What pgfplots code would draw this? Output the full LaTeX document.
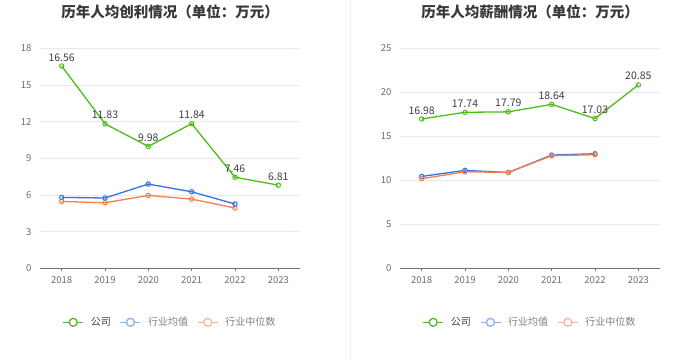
\documentclass[border=0pt]{standalone}
\usepackage{fontspec}
\setmainfont{Noto Sans CJK SC}
\usepackage{pgfplots}
\pgfplotsset{compat=1.18}
\definecolor{cgreen}{HTML}{4DBD1B}
\definecolor{cblue}{HTML}{3571E8}
\definecolor{corange}{HTML}{F5804F}
\definecolor{lblue}{HTML}{8EB0F4}
\definecolor{lorange}{HTML}{F9B59A}
\definecolor{gridc}{HTML}{E6E9EF}
\definecolor{tickc}{HTML}{6E6E6E}
\pgfplotsset{
  mystyle/.style={
    anchor=south west, width=260pt, height=220pt, scale only axis,
    xmin=-0.5, xmax=5.5, ymin=0,
    xtick={0,...,5}, xticklabels={2018,2019,2020,2021,2022,2023},
    axis x line*=bottom, axis y line*=left,
    y axis line style={draw=none},
    x axis line style={draw=black!55, line width=0.8pt},
    ytick style={draw=none},
    xtick style={draw=black!55, line width=0.8pt},
    tick align=outside, major tick length=3pt,
    ymajorgrids, grid style={gridc, line width=0.8pt},
    tick label style={font=\fontsize{9.5}{11}\selectfont, text=tickc},
    /pgf/number format/assume math mode=true,
    xticklabel style={yshift=-2pt},
    yticklabel style={xshift=-2pt},
    clip=false,
    legend style={at={(0.5,-0.245)}, anchor=center, draw=none, fill=none,
      legend columns=3, font=\fontsize{10}{12}\selectfont,
      /tikz/every odd column/.append style={column sep=5pt},
      /tikz/every even column/.append style={column sep=7pt}},
    legend image code/.code={
      \draw[#1, line width=1.3pt] (0pt,0pt) -- (20pt,0pt);
      \draw[#1, line width=1.3pt, fill=white] (10pt,0pt) circle (4pt);},
    every axis plot/.append style={line width=1.3pt, mark=o, mark size=2.2pt,
      mark options={fill=white, line width=1pt}},
  }
}
\begin{document}
\begin{tikzpicture}
\fill[white] (0pt,0pt) rectangle (700pt,360pt);
\draw[black!6, line width=0.8pt] (350pt,0pt) -- (350pt,360pt);
\node[font=\bfseries\fontsize{14.5}{16}\selectfont, text=black!78] at (170pt,348pt) {历年人均创利情况（单位：万元）};
\node[font=\bfseries\fontsize{14.5}{16}\selectfont, text=black!78] at (530pt,348pt) {历年人均薪酬情况（单位：万元）};

\begin{axis}[mystyle, at={(40pt,92pt)}, ymax=18, ytick={0,3,...,18}]
\addlegendimage{cgreen}
\addlegendentry{\textcolor{black!75}{公司}}
\addlegendimage{lblue}
\addlegendentry{\textcolor{black!50}{行业均值}}
\addlegendimage{lorange}
\addlegendentry{\textcolor{black!50}{行业中位数}}
\addplot[corange, forget plot] coordinates {(0,5.48) (1,5.37) (2,5.97) (3,5.67) (4,4.94)};
\addplot[cblue, forget plot] coordinates {(0,5.81) (1,5.76) (2,6.90) (3,6.27) (4,5.27)};
\addplot[cgreen, forget plot, nodes near coords, point meta=explicit symbolic,
  every node near coord/.append style={font=\fontsize{10.5}{12}\selectfont, text=black!75, yshift=1pt}]
  coordinates {(0,16.56)[16.56] (1,11.83)[11.83] (2,9.98)[9.98] (3,11.84)[11.84] (4,7.46)[7.46] (5,6.81)[6.81]};
\end{axis}

\begin{axis}[mystyle, at={(400pt,92pt)}, ymax=25, ytick={0,5,...,25}]
\addlegendimage{cgreen}
\addlegendentry{\textcolor{black!75}{公司}}
\addlegendimage{lblue}
\addlegendentry{\textcolor{black!50}{行业均值}}
\addlegendimage{lorange}
\addlegendentry{\textcolor{black!50}{行业中位数}}
\addplot[cblue, forget plot] coordinates {(0,10.45) (1,11.14) (2,10.90) (3,12.88) (4,13.03)};
\addplot[corange, forget plot] coordinates {(0,10.19) (1,10.98) (2,10.90) (3,12.80) (4,12.92)};
\addplot[cgreen, forget plot, nodes near coords, point meta=explicit symbolic,
  every node near coord/.append style={font=\fontsize{10.5}{12}\selectfont, text=black!75, yshift=1pt}]
  coordinates {(0,16.98)[16.98] (1,17.74)[17.74] (2,17.79)[17.79] (3,18.64)[18.64] (4,17.03)[17.03] (5,20.85)[20.85]};
\end{axis}
\end{tikzpicture}
\end{document}
